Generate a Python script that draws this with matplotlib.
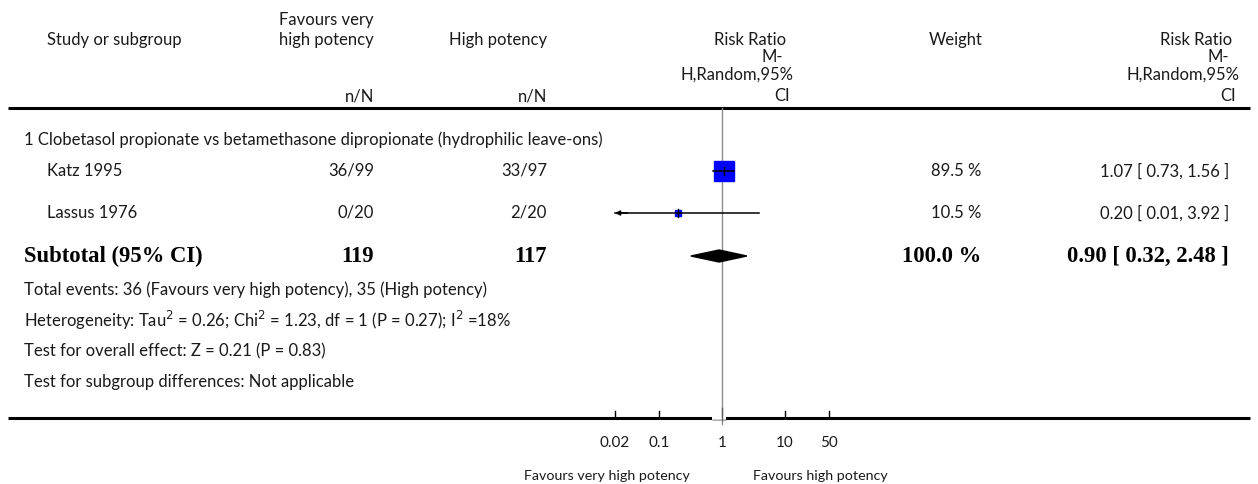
import numpy as np
import matplotlib
matplotlib.use("Agg")
import matplotlib.pyplot as plt
from matplotlib.patches import Polygon

# ---- data -------------------------------------------------------------
subgroup_title = "1 Clobetasol propionate vs betamethasone dipropionate (hydrophilic leave-ons)"
studies = ["Katz 1995", "Lassus 1976"]
events_vhp = ["36/99", "0/20"]
events_hp = ["33/97", "2/20"]
rr = [1.07, 0.20]
ci_low = [0.73, 0.01]
ci_high = [1.56, 3.92]
weights = [89.5, 10.5]

total_vhp = 119
total_hp = 117
pooled_rr = 0.90
pooled_low = 0.32
pooled_high = 2.48
pooled_weight = 100.0

footer_lines = [
    "Total events: 36 (Favours very high potency), 35 (High potency)",
    r"Heterogeneity: Tau$^{2}$ = 0.26; Chi$^{2}$ = 1.23, df = 1 (P = 0.27); I$^{2}$ =18%",
    "Test for overall effect: Z = 0.21 (P = 0.83)",
    "Test for subgroup differences: Not applicable",
]
axis_ticks = [0.02, 0.1, 1, 10, 50]
axis_tick_labels = ["0.02", "0.1", "1", "10", "50"]
axis_min, axis_max = 0.02, 100
left_label = "Favours very high potency"
right_label = "Favours high potency"

# ---- layout -----------------------------------------------------------
W, H = 1258, 484
FONT = "Lato"
FS = 12
SERIF = "Liberation Serif"
BFS = 16.3

fig = plt.figure(figsize=(W / 100, H / 100), dpi=100)
ax = fig.add_axes([0, 0, 1, 1])
ax.set_xlim(0, W)
ax.set_ylim(H, 0)
ax.axis("off")

# forest panel on a log scale
fx = fig.add_axes([596 / W, 0, 252 / W, 1])
fx.set_xscale("log")
fx.set_xlim(0.01, 100)
fx.set_ylim(H, 0)
fx.axis("off")
fx.patch.set_alpha(0)

def t(x, y, s, ha="left", **kw):
    kw.setdefault("fontsize", FS)
    kw.setdefault("family", FONT)
    ax.text(x, y, s, ha=ha, va="center", color="#1a1a1a", **kw)

# column headers
t(47, 40, "Study or subgroup")
t(374, 20, "Favours very", ha="right")
t(374, 40, "high potency", ha="right")
t(374, 96, "n/N", ha="right")
t(547, 40, "High potency", ha="right")
t(547, 96, "n/N", ha="right")
for x0 in (786, 1232):
    t(x0, 40, "Risk Ratio", ha="right")
    t(x0 - 3, 57, "M-", ha="right")
    t(x0 + 7, 75, "H,Random,95%", ha="right")
    t(x0 + 4, 96, "CI", ha="right")
t(983, 40, "Weight", ha="right")

# header and bottom rules
ax.plot([8, 1250], [108, 108], color="black", lw=2.2, solid_capstyle="butt")
ax.plot([8, 1250], [418, 418], color="black", lw=2.2, solid_capstyle="butt")

# subgroup title
t(24, 140, subgroup_title)

# study rows
row_y = [171, 213]
for i, name in enumerate(studies):
    y = row_y[i]
    t(47, y, name)
    t(374, y, events_vhp[i], ha="right")
    t(547, y, events_hp[i], ha="right")
    t(981, y, f"{weights[i]:.1f} %", ha="right")
    t(1229, y, f"{rr[i]:.2f} [ {ci_low[i]:.2f}, {ci_high[i]:.2f} ]", ha="right")

    lo = max(ci_low[i], axis_min)
    hi = min(ci_high[i], axis_max)
    if ci_low[i] < axis_min:
        fx.annotate("", xy=(axis_min, y), xytext=(axis_min * 1.6, y),
                    arrowprops=dict(arrowstyle="-|>", color="black", lw=1.1,
                                    mutation_scale=7, shrinkA=0, shrinkB=0),
                    zorder=3)
    ms = 1.52 * np.sqrt(weights[i])
    fx.plot([rr[i]], [y], marker="s", ms=ms, color="#0000ff",
            markeredgecolor="#0000ff", zorder=4)
    fx.plot([lo, hi], [y, y], color="black", lw=1.1, zorder=5)
    fx.plot([rr[i], rr[i]], [y - 4, y + 4], color="black", lw=1.0, zorder=5)

# pooled row
ys = 256
ax.text(24, ys, "Subtotal (95% CI)", ha="left", va="center", family=SERIF,
        fontweight="bold", fontsize=BFS, color="black")
for x0, s in [(374, str(total_vhp)), (547, str(total_hp)),
              (981, f"{pooled_weight:.1f} %"),
              (1229, f"{pooled_rr:.2f} [ {pooled_low:.2f}, {pooled_high:.2f} ]")]:
    ax.text(x0, ys, s, ha="right", va="center", family=SERIF,
            fontweight="bold", fontsize=BFS, color="black")
diamond = Polygon([(pooled_low, ys), (pooled_rr, ys - 6), (pooled_high, ys),
                   (pooled_rr, ys + 6)], closed=True, color="black", zorder=4)
fx.add_patch(diamond)

# footer statistics
for k, line in enumerate(footer_lines):
    t(24, 290 + 30.5 * k, line)

# line of no effect
fx.plot([1, 1], [108, 424], color="#8c8c8c", lw=1.0, zorder=2, clip_on=False)
fx.plot([0.7, 1.16], [418, 418], color="white", lw=2.6, zorder=2.5,
        solid_capstyle="butt")
fx.plot([0.7, 1.16], [420, 420], color="#b0b0b0", lw=0.8, zorder=2.6,
        solid_capstyle="butt")
fx.plot([1, 1], [408, 420], color="#606060", lw=1.0, zorder=2.7)

# axis ticks and labels
for v, lab in zip(axis_ticks, axis_tick_labels):
    if v != 1:
        fx.plot([v, v], [411, 418], color="black", lw=1.0)
    fx.text(v, 443, lab, ha="center", va="center", family=FONT,
            fontsize=11, color="#1a1a1a")
fx.text(0.015, 476, left_label, ha="center", va="center", family=FONT,
        fontsize=10.3, color="#1a1a1a", clip_on=False)
fx.text(36, 476, right_label, ha="center", va="center", family=FONT,
        fontsize=10.3, color="#1a1a1a", clip_on=False)

fig.savefig("out.png", dpi=100)
